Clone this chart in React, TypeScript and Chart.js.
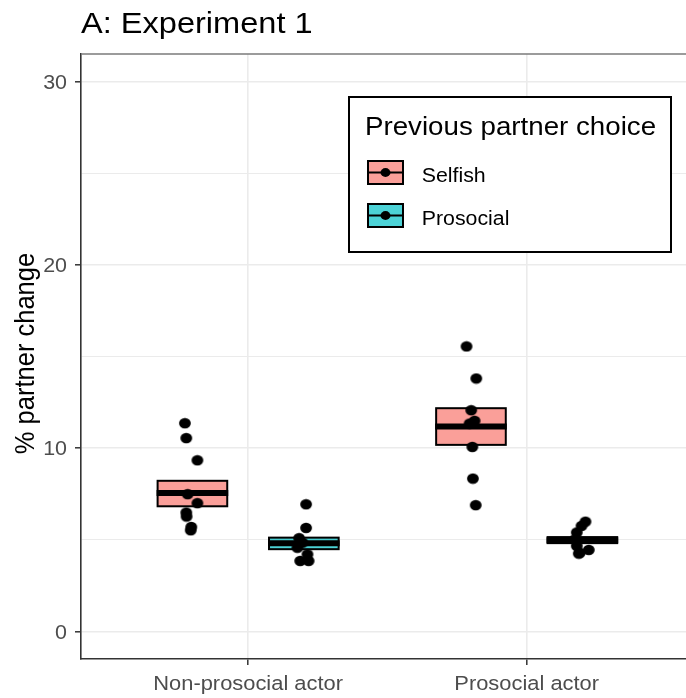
import React, { useEffect, useRef } from "react";
import { Chart, registerables } from "chart.js";

Chart.register(...registerables);

// ---- data ----
const actorLabels = ["Non-prosocial actor", "Prosocial actor"];
const choiceLabels = ["Selfish", "Prosocial"];
const choiceFills = ["rgba(248,118,109,0.7)", "rgba(0,191,196,0.7)"];

// mean ± SE per actor type
const selfishMean = [7.56, 11.18];
const selfishLower = [6.83, 10.18];
const selfishUpper = [8.22, 12.18];
const prosocialMean = [4.81, 4.98];
const prosocialLower = [4.49, 4.82];
const prosocialUpper = [5.12, 5.15];

// individual % partner change values and their horizontal jitter
const selfishNonProsocial = [11.36, 10.55, 9.34, 7.49, 7.0, 6.49, 6.27, 5.7, 5.52];
const selfishNonProsocialJitter = [-0.027, -0.022, 0.018, -0.017, 0.018, -0.022, -0.021, -0.004, -0.006];
const prosocialNonProsocial = [6.94, 5.65, 5.09, 4.85, 4.57, 4.21, 3.85, 3.85];
const prosocialNonProsocialJitter = [0.008, 0.008, -0.017, -0.005, -0.023, 0.013, -0.013, 0.017];
const selfishProsocial = [15.55, 13.8, 12.07, 11.49, 11.34, 10.07, 8.34, 6.89];
const selfishProsocialJitter = [-0.016, 0.019, 0.001, 0.013, -0.005, 0.005, 0.007, 0.017];
const prosocialProsocial = [5.99, 5.76, 5.4, 5.03, 4.67, 4.3, 4.45, 4.25];
const prosocialProsocialJitter = [0.011, -0.003, -0.02, -0.026, -0.02, -0.009, 0.023, -0.013];

const yTickValues = [0, 10, 20, 30];
const yMinorValues = [5, 15, 25];

const titleText = "A: Experiment 1";
const yTitleText = "% partner change";
const legendTitleText = "Previous partner choice";

// ---- layout / style ----
const W = 686;
const H = 698;
const FONT = "'Liberation Sans', Arial, sans-serif";
const SX = 1.1; // horizontal text stretch
const DODGE = 0.2;
const HALF_BOX = 0.125;

const summaries = [
  { mean: selfishMean, lo: selfishLower, hi: selfishUpper },
  { mean: prosocialMean, lo: prosocialLower, hi: prosocialUpper },
];

function pointsFor(values: number[], jitter: number[], actor: number, group: number) {
  const center = actor + 1 + (group === 0 ? -DODGE : DODGE);
  return values.map((v, i) => ({ x: center + jitter[i], y: v }));
}

function text(
  ctx: CanvasRenderingContext2D,
  s: string,
  x: number,
  y: number,
  size: number,
  color: string,
  align: CanvasTextAlign,
  rotate = false
) {
  ctx.save();
  ctx.translate(x, y);
  ctx.scale(SX, 1);
  if (rotate) ctx.rotate(-Math.PI / 2);
  ctx.font = `${size}px ${FONT}`;
  ctx.fillStyle = color;
  ctx.textAlign = align;
  ctx.textBaseline = "alphabetic";
  ctx.fillText(s, 0, 0);
  ctx.restore();
}

function makeDot(): HTMLCanvasElement {
  const c = document.createElement("canvas");
  c.width = 14;
  c.height = 12;
  const g = c.getContext("2d")!;
  g.fillStyle = "#000";
  g.beginPath();
  g.ellipse(7, 6, 5.9, 5.2, 0, 0, Math.PI * 2);
  g.fill();
  return c;
}

const crossbarPlugin = {
  id: "crossbars",
  beforeDatasetsDraw(chart: any) {
    const { ctx, scales } = chart;
    const xs = scales.x;
    const ys = scales.y;
    summaries.forEach((sm, g) => {
      sm.mean.forEach((m, a) => {
        const c = a + 1 + (g === 0 ? -DODGE : DODGE);
        const x0 = xs.getPixelForValue(c - HALF_BOX);
        const x1 = xs.getPixelForValue(c + HALF_BOX);
        const yT = ys.getPixelForValue(sm.hi[a]);
        const yB = ys.getPixelForValue(sm.lo[a]);
        const yM = ys.getPixelForValue(m);
        ctx.save();
        ctx.fillStyle = choiceFills[g];
        ctx.fillRect(x0, yT, x1 - x0, yB - yT);
        ctx.strokeStyle = "#000";
        ctx.lineWidth = 2;
        ctx.strokeRect(x0, yT, x1 - x0, yB - yT);
        ctx.lineWidth = 6;
        ctx.lineCap = "butt";
        ctx.beginPath();
        ctx.moveTo(x0 - 1, yM);
        ctx.lineTo(x1 + 1, yM);
        ctx.stroke();
        ctx.restore();
      });
    });
  },
};

const decorPlugin = {
  id: "decor",
  afterDraw(chart: any) {
    const { ctx, scales, chartArea } = chart;
    const xs = scales.x;
    const ys = scales.y;

    // top panel border
    ctx.save();
    ctx.strokeStyle = "#7a7a7a";
    ctx.lineWidth = 1.5;
    ctx.beginPath();
    ctx.moveTo(chartArea.left, chartArea.top);
    ctx.lineTo(chartArea.right, chartArea.top);
    ctx.stroke();
    ctx.restore();

    // plot title
    text(ctx, titleText, 81, 33, 29.6, "#000", "left");

    // y tick labels
    yTickValues.forEach((v) => {
      const y = ys.getPixelForValue(v);
      text(ctx, String(v), 67, y + 7, 19.5, "#4d4d4d", "right");
    });

    // x tick labels
    actorLabels.forEach((lab, i) => {
      text(ctx, lab, xs.getPixelForValue(i + 1), 690, 19.9, "#4d4d4d", "center");
    });

    // y axis title
    text(ctx, yTitleText, 34, (chartArea.top + chartArea.bottom) / 2 - 3, 25.5, "#000", "center", true);

    // legend
    const lx = 349, ly = 97, lw = 322, lh = 155;
    ctx.save();
    ctx.fillStyle = "#fff";
    ctx.fillRect(lx, ly, lw, lh);
    ctx.strokeStyle = "#000";
    ctx.lineWidth = 2;
    ctx.strokeRect(lx, ly, lw, lh);
    ctx.restore();
    text(ctx, legendTitleText, 365, 135, 25.2, "#000", "left");
    const keyTops = [161, 204];
    choiceLabels.forEach((lab, g) => {
      const ky = keyTops[g];
      const kx = 368, kw = 35, kh = 23;
      ctx.save();
      ctx.fillStyle = choiceFills[g];
      ctx.fillRect(kx, ky, kw, kh);
      ctx.strokeStyle = "#000";
      ctx.lineWidth = 2;
      ctx.strokeRect(kx, ky, kw, kh);
      ctx.lineWidth = 2;
      ctx.beginPath();
      ctx.moveTo(kx, ky + kh / 2);
      ctx.lineTo(kx + kw, ky + kh / 2);
      ctx.stroke();
      ctx.fillStyle = "#000";
      ctx.beginPath();
      ctx.ellipse(kx + kw / 2, ky + kh / 2, 5, 4.4, 0, 0, Math.PI * 2);
      ctx.fill();
      ctx.restore();
      text(ctx, lab, 421.7, ky + 20.5, 19.4, "#000", "left");
    });
  },
};

export default function App() {
  const ref = useRef<HTMLCanvasElement | null>(null);

  useEffect(() => {
    if (!ref.current) return;
    const dot = makeDot();
    const datasets = [
      { label: "Selfish / Non-prosocial", data: pointsFor(selfishNonProsocial, selfishNonProsocialJitter, 0, 0) },
      { label: "Prosocial / Non-prosocial", data: pointsFor(prosocialNonProsocial, prosocialNonProsocialJitter, 0, 1) },
      { label: "Selfish / Prosocial", data: pointsFor(selfishProsocial, selfishProsocialJitter, 1, 0) },
      { label: "Prosocial / Prosocial", data: pointsFor(prosocialProsocial, prosocialProsocialJitter, 1, 1) },
    ].map((d) => ({
      ...d,
      pointStyle: dot as any,
      pointRadius: 5,
      pointBackgroundColor: "#000",
      pointBorderColor: "#000",
      showLine: false,
    }));

    const majorY = (v: number) => yTickValues.includes(v);

    const chart = new Chart(ref.current, {
      type: "scatter",
      data: { datasets },
      options: {
        animation: false,
        responsive: false,
        devicePixelRatio: 1,
        layout: { autoPadding: false, padding: { top: 54, left: 0, right: 0, bottom: 0 } },
        plugins: {
          legend: { display: false },
          title: { display: false },
          tooltip: { enabled: false },
        },
        scales: {
          x: {
            type: "linear",
            min: 0.4,
            max: 2.572,
            afterBuildTicks: (s: any) => {
              s.ticks = actorLabels.map((_, i) => ({ value: i + 1 }));
            },
            afterFit: (s: any) => {
              s.height = 39;
            },
            ticks: { display: false },
            grid: {
              color: "#ebebeb",
              lineWidth: 1.6,
              drawTicks: true,
              tickLength: 6,
              tickColor: "#333",
              tickWidth: 1.5,
            },
            border: { display: true, color: "#333", width: 1.6 },
          },
          y: {
            type: "linear",
            min: -1.5,
            max: 31.5,
            afterBuildTicks: (s: any) => {
              s.ticks = [...yTickValues, ...yMinorValues]
                .sort((a, b) => a - b)
                .map((v) => ({ value: v }));
            },
            afterFit: (s: any) => {
              s.width = 81;
            },
            ticks: { display: false },
            grid: {
              color: "#ebebeb",
              lineWidth: (c: any) => (majorY(c.tick?.value) ? 1.6 : 1.1),
              drawTicks: true,
              tickLength: 6,
              tickColor: (c: any) => (majorY(c.tick?.value) ? "#333" : "rgba(0,0,0,0)"),
              tickWidth: 1.5,
            },
            border: { display: true, color: "#333", width: 1.6 },
          },
        },
      },
      plugins: [crossbarPlugin, decorPlugin],
    });
    return () => chart.destroy();
  }, []);

  return (
    <div style={{ position: "absolute", left: 0, top: 0, width: W, height: H, background: "#fff" }}>
      <canvas ref={ref} width={W} height={H} style={{ display: "block" }} />
    </div>
  );
}
